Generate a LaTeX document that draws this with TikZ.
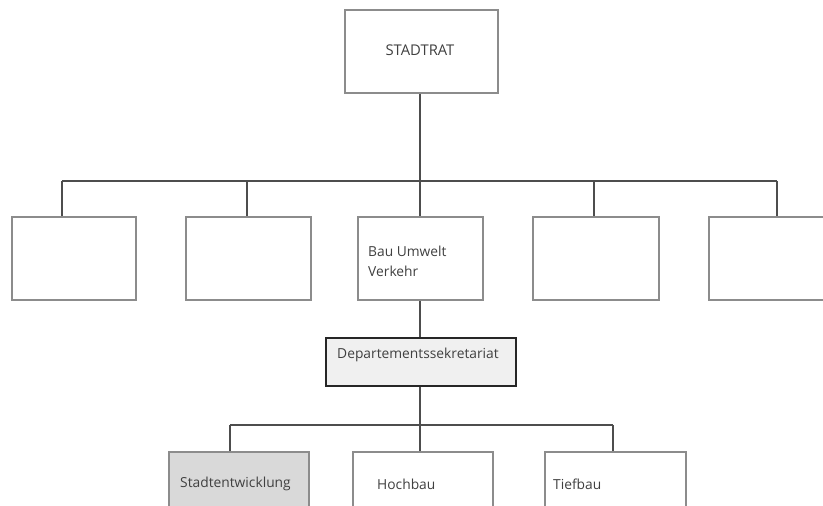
\documentclass[tikz,border=0pt]{standalone}
\usepackage{fontspec}
\setmainfont{Open Sans}
\usetikzlibrary{calc}
\definecolor{boxline}{HTML}{8C8C8C}
\definecolor{wire}{HTML}{4D4D4D}
\definecolor{secfill}{HTML}{F0F0F0}
\definecolor{devfill}{HTML}{D9D9D9}
\tikzset{
  orgbox/.style={draw=boxline, line width=1.3pt, fill=white, inner sep=0pt},
  secbox/.style={draw=black!85, line width=1.4pt, fill=secfill, inner sep=0pt},
  wireline/.style={draw=wire, line width=2pt},
  lbl/.style={inner sep=0pt, anchor=west, text=black!75, font=\fontsize{13.8}{20}\selectfont},
}
\begin{document}
\begin{tikzpicture}[x=1pt, y=-1pt]
\useasboundingbox (0,0) rectangle (823,506);
\clip (0,0) rectangle (823,506);

% council
\node[orgbox, minimum width=153pt, minimum height=83pt] (rat) at (421.5,51.5) {};
\node[lbl, anchor=center, font=\fontsize{14.8}{20}\selectfont] (ratlbl) at (420,50) {STADTRAT};

% departments
\node[orgbox, minimum width=124pt, minimum height=83pt] (d1) at (74,258.5) {};
\node[orgbox, minimum width=125pt, minimum height=83pt] (d2) at (248.5,258.5) {};
\node[orgbox, minimum width=125pt, minimum height=83pt] (bau) at (420.5,258.5) {};
\node[orgbox, minimum width=126pt, minimum height=83pt] (d4) at (596,258.5) {};
\node[orgbox, minimum width=126pt, minimum height=83pt] (d5) at (772,258.5) {};
\node[lbl, align=left, anchor=north west] (baulbl) at (368,246) {Bau Umwelt\\Verkehr};

% secretariat
\node[secbox, minimum width=190pt, minimum height=48pt] (sek) at (421,362) {};
\node[lbl] (seklbl) at (337,355) {Departementssekretariat};

% offices
\node[orgbox, fill=devfill, minimum width=140pt, minimum height=83pt] (stadt) at (239,493.5) {};
\node[orgbox, minimum width=140pt, minimum height=83pt] (hoch) at (423,493.5) {};
\node[orgbox, minimum width=141pt, minimum height=83pt] (tief) at (615.5,493.5) {};
\node[lbl] (stadtlbl) at (180,484) {Stadtentwicklung};
\node[lbl] (hochlbl) at (377,484) {Hochbau};
\node[lbl] (tieflbl) at (553,484) {Tiefbau};

% upper bus
\coordinate (j1) at (62,181);
\coordinate (j2) at (247,181);
\coordinate (j3) at (420,181);
\coordinate (j4) at (594,181);
\coordinate (j5) at (777,181);
\draw[wireline] (j1) -- (j5);
\draw[wireline] (j3 |- rat.south) -- (j3 |- bau.north);
\draw[wireline] (j1) -- (j1 |- d1.north);
\draw[wireline] (j2) -- (j2 |- d2.north);
\draw[wireline] (j4) -- (j4 |- d4.north);
\draw[wireline] (j5) -- (j5 |- d5.north);
\draw[wireline] (j3 |- bau.south) -- (j3 |- sek.north);

% lower bus
\coordinate (k1) at (230,425);
\coordinate (k2) at (420,425);
\coordinate (k3) at (613,425);
\draw[wireline] (k1) -- (k3);
\draw[wireline] (k2 |- sek.south) -- (k2 |- hoch.north);
\draw[wireline] (k1) -- (k1 |- stadt.north);
\draw[wireline] (k3) -- (k3 |- tief.north);
\end{tikzpicture}
\end{document}
